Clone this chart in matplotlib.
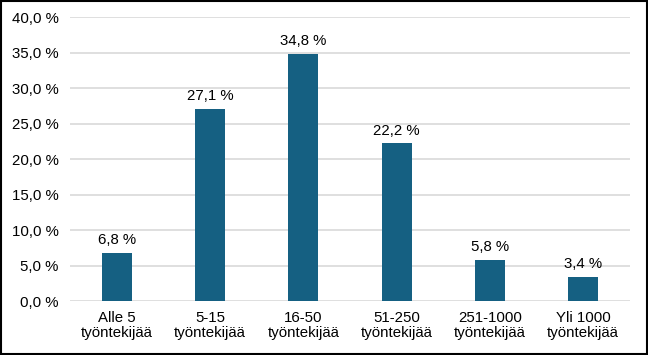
import matplotlib.pyplot as plt
from matplotlib.ticker import FuncFormatter
from matplotlib.patches import Rectangle

plt.rcParams['font.family'] = ['Liberation Sans', 'DejaVu Sans']

# Data
categories = ['Alle 5\ntyöntekijää', '5-15\ntyöntekijää', '16-50\ntyöntekijää',
              '51-250\ntyöntekijää', '251-1000\ntyöntekijää', 'Yli 1000\ntyöntekijää']
values = [6.8, 27.1, 34.8, 22.2, 5.8, 3.4]

def fi_pct(v, pos=None):
    return f"{v:.1f}".replace('.', ',') + ' %'

fig = plt.figure(figsize=(6.48, 3.55), dpi=100)
ax = fig.add_axes([0.108, 0.152, 0.864, 0.80])

x = range(len(categories))
ax.bar(x, values, width=0.32, color='#156082', zorder=3)

for i, v in enumerate(values):
    ax.text(i, v + 0.8, fi_pct(v), ha='center', va='bottom', fontsize=10.8, color='#000000')

ax.set_xlim(-0.5, len(categories) - 0.5)
ax.set_ylim(0, 40)
ax.set_yticks(range(0, 41, 5))
ax.yaxis.set_major_formatter(FuncFormatter(fi_pct))
ax.set_xticks(list(x))
ax.set_xticklabels(categories, fontsize=10.8, linespacing=1.15)
ax.tick_params(axis='y', labelsize=10.8, length=0, pad=8)
ax.tick_params(axis='x', length=0, pad=7)
ax.grid(axis='y', color='#d9d9d9', linewidth=1.2, zorder=0)
for s in ax.spines.values():
    s.set_visible(False)

# outer frame
fig.patches.append(Rectangle((0.002, 0.003), 0.996, 0.994, transform=fig.transFigure,
                             fill=False, edgecolor='#000000', linewidth=1.5))

fig.savefig('out.png', dpi=100)
